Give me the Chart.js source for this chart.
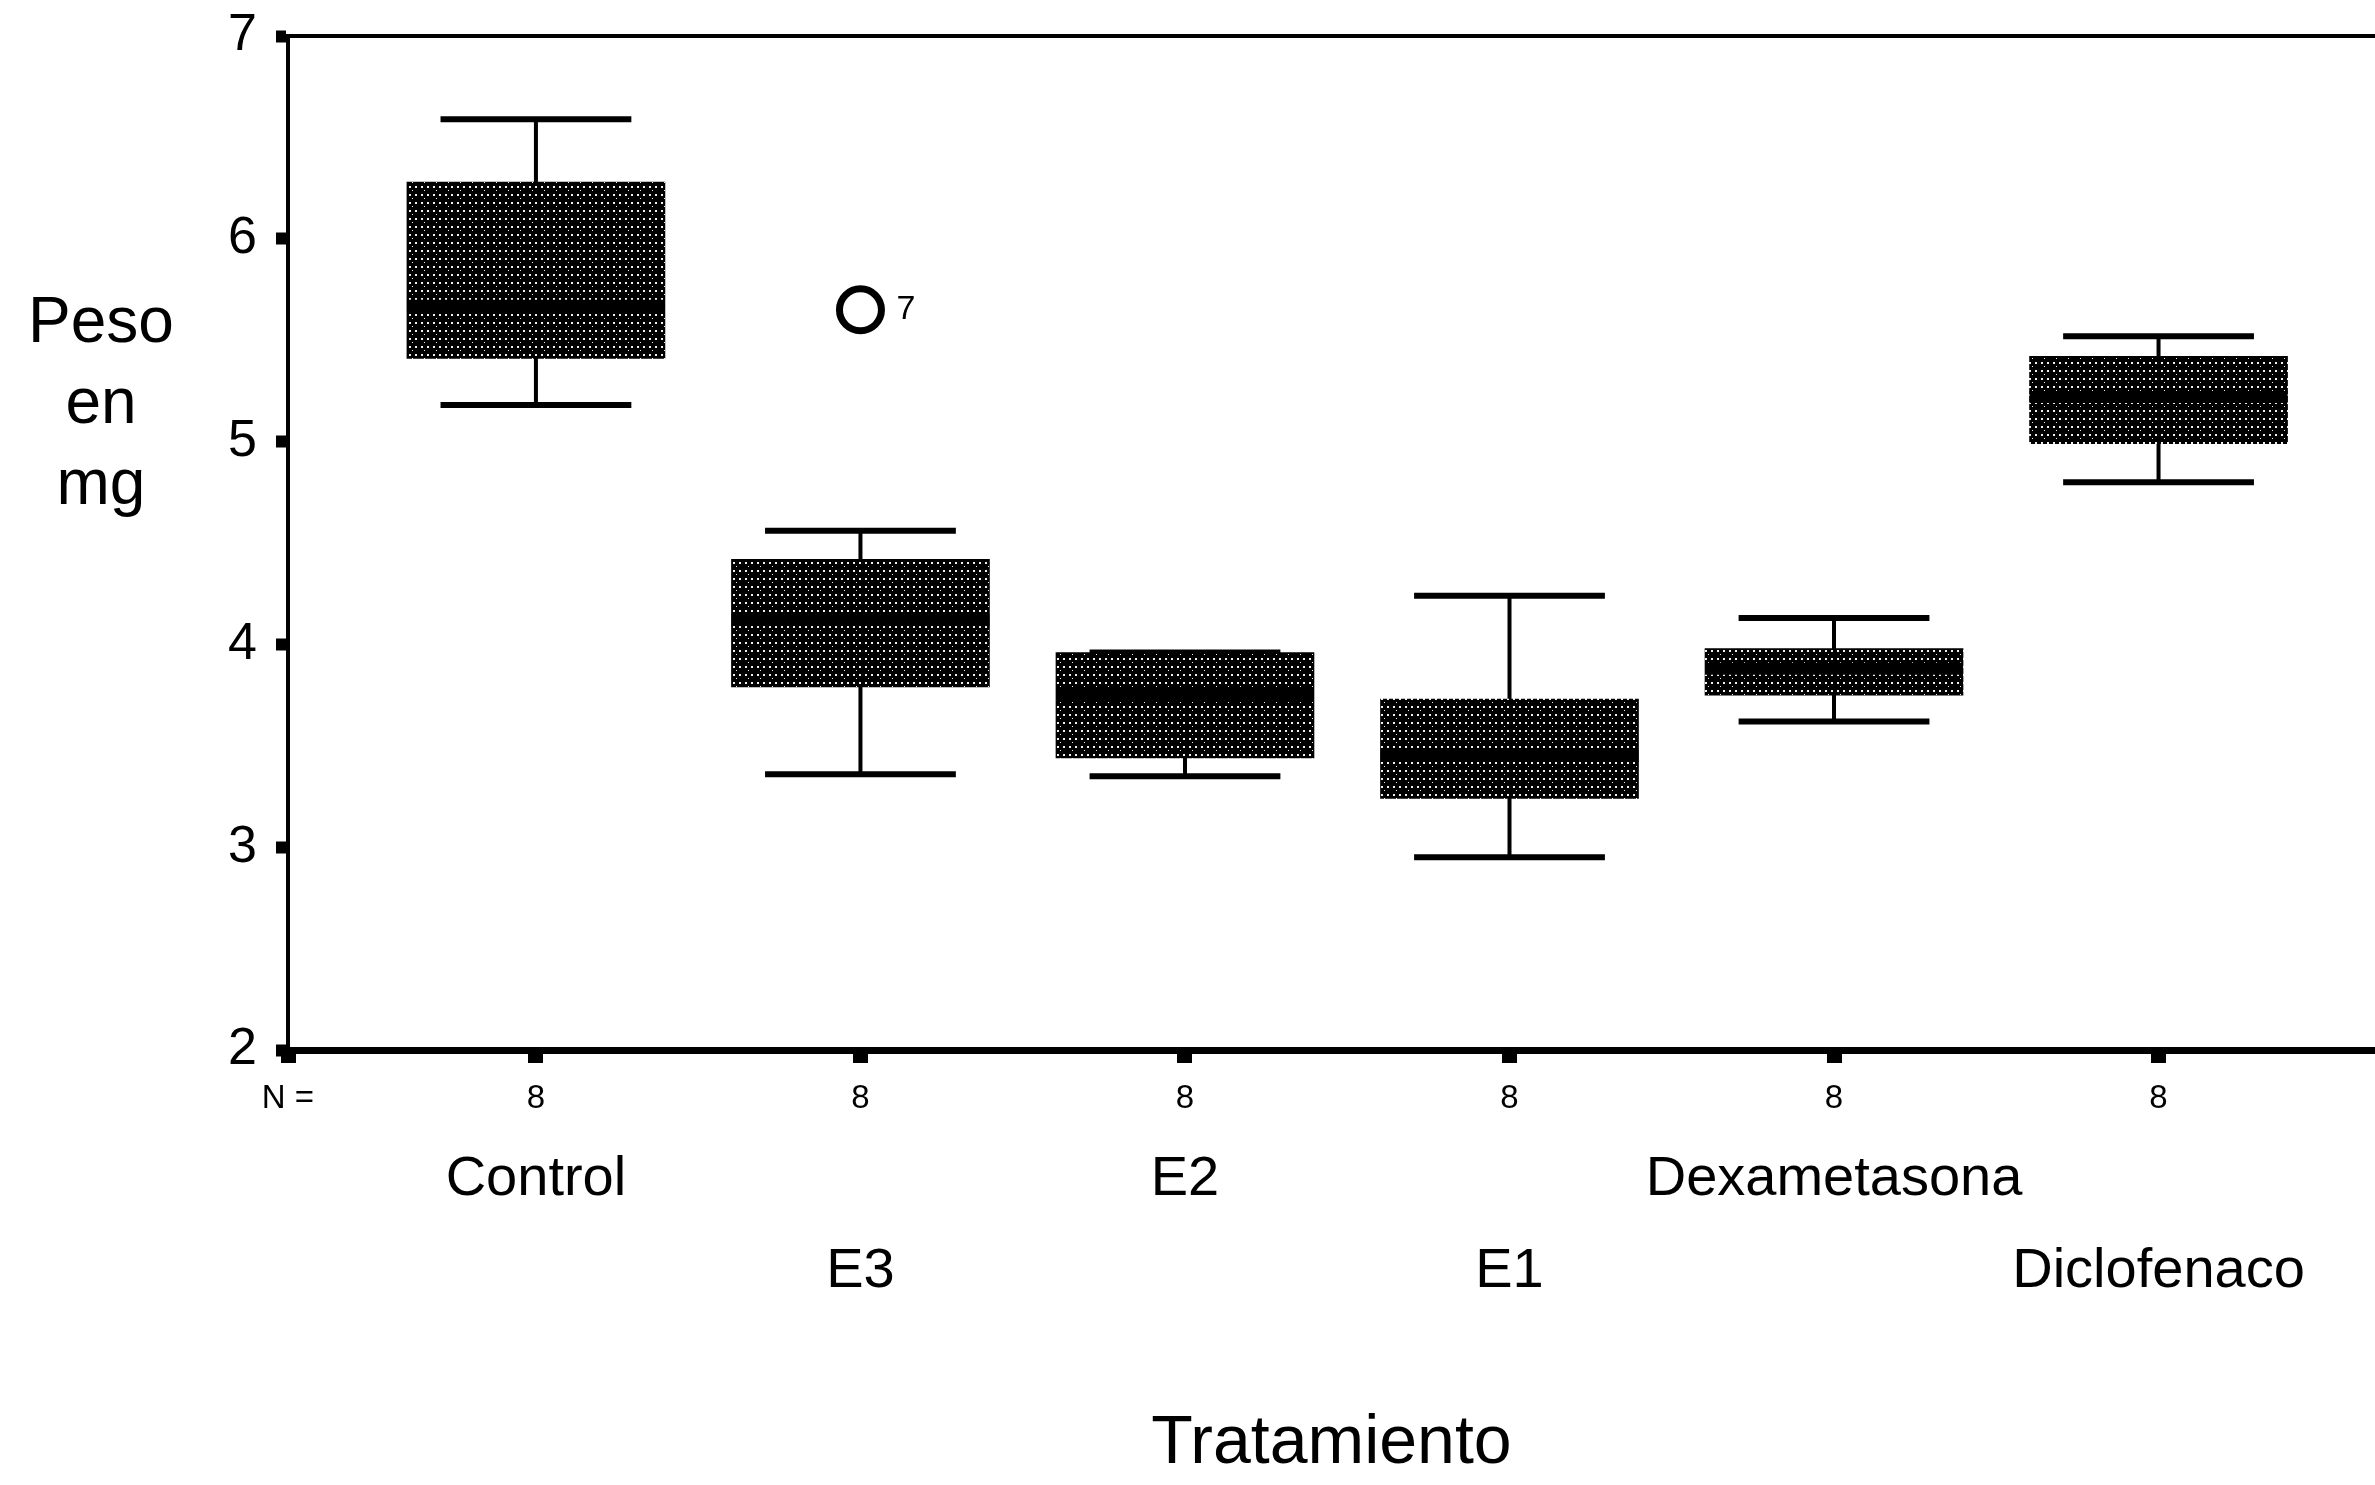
<!DOCTYPE html>
<html>
<head>
<meta charset="utf-8">
<script src="https://cdn.jsdelivr.net/npm/chart.js@4.4.1/dist/chart.umd.min.js"></script>
<style>
  html, body { margin: 0; padding: 0; background: #fff; overflow: hidden; }
  #wrap { width: 2375px; height: 1485px; }
</style>
</head>
<body>
<div id="wrap"><canvas id="chart"></canvas></div>
<script>
// Boxplot: Peso en mg por tratamiento (N = 8 por grupo)
const categories = ["Control", "E3", "E2", "E1", "Dexametasona", "Diclofenaco"];
const nCounts = [8, 8, 8, 8, 8, 8];
const whiskerLow = [5.18, 3.36, 3.35, 2.95, 3.62, 4.80];
const q1 = [5.41, 3.79, 3.44, 3.24, 3.75, 4.99];
const median = [5.67, 4.12, 3.75, 3.45, 3.88, 5.22];
const q3 = [6.28, 4.42, 3.96, 3.73, 3.98, 5.42];
const whiskerHigh = [6.59, 4.56, 3.96, 4.24, 4.13, 5.52];
const outlierX = [2];
const outlierY = [5.65];
const outlierLabels = ["7"];
const yTicks = [2, 3, 4, 5, 6, 7];

const xMin = 0.236, xMax = 6.667;
const capHalf = 0.294;
const font = "'Liberation Sans', Arial, sans-serif";

function stipple() {
  const c = document.createElement("canvas");
  c.width = 12; c.height = 8;
  const g = c.getContext("2d");
  g.fillStyle = "#000";
  g.fillRect(0, 0, 12, 8);
  g.fillStyle = "#f0f0f0";
  g.fillRect(1, 2, 2, 2);
  g.fillRect(7, 2, 2, 2);
  g.fillRect(4, 6, 1, 1);
  return g.createPattern(c, "repeat");
}

const boxParts = {
  id: "boxParts",
  beforeDatasetsDraw(chart) {
    const { ctx, scales: { x, y } } = chart;
    ctx.save();
    ctx.strokeStyle = "#000";
    categories.forEach((c, i) => {
      const cx = x.getPixelForValue(i + 1);
      ctx.lineWidth = 4;
      ctx.beginPath();
      ctx.moveTo(cx, y.getPixelForValue(whiskerLow[i]));
      ctx.lineTo(cx, y.getPixelForValue(whiskerHigh[i]));
      ctx.stroke();
      ctx.lineWidth = 6;
      [whiskerLow[i], whiskerHigh[i]].forEach(v => {
        const py = y.getPixelForValue(v);
        ctx.beginPath();
        ctx.moveTo(x.getPixelForValue(i + 1 - capHalf), py);
        ctx.lineTo(x.getPixelForValue(i + 1 + capHalf), py);
        ctx.stroke();
      });
    });
    ctx.restore();
  },
  afterDatasetsDraw(chart) {
    const { ctx, chartArea, scales: { x, y } } = chart;
    const bar = chart.getDatasetMeta(0).data;
    ctx.save();
    // median band
    ctx.fillStyle = "#000";
    categories.forEach((c, i) => {
      const py = y.getPixelForValue(median[i]);
      ctx.fillRect(bar[i].x - bar[i].width / 2, py - 6, bar[i].width, 12);
    });
    // top frame line
    ctx.strokeStyle = "#000";
    ctx.lineWidth = 4;
    ctx.beginPath();
    ctx.moveTo(chartArea.left, chartArea.top);
    ctx.lineTo(chartArea.right, chartArea.top);
    ctx.stroke();
    // outlier case numbers
    ctx.font = "34px " + font;
    ctx.textBaseline = "middle";
    ctx.textAlign = "left";
    outlierLabels.forEach((t, i) => {
      ctx.fillText(t, x.getPixelForValue(outlierX[i]) + 36, y.getPixelForValue(outlierY[i]));
    });
    // horizontal y title
    ctx.font = "64px " + font;
    ctx.textAlign = "center";
    const tx = chartArea.left - 187;
    const mid = y.getPixelForValue(5.18);
    ["Peso", "en", "mg"].forEach((t, k) => ctx.fillText(t, tx, mid + (k - 1) * 81));
    ctx.restore();
  }
};

const catTicks = s => { s.ticks = categories.map((c, i) => ({ value: i + 1 })); };

new Chart(document.getElementById("chart"), {
  type: "bar",
  data: {
    datasets: [
      {
        label: "Peso",
        data: categories.map((c, i) => ({ x: i + 1, y: [q1[i], q3[i]] })),
        backgroundColor: stipple(),
        borderWidth: 0,
        barThickness: 258,
        grouped: false
      },
      {
        type: "scatter",
        label: "Atípico",
        data: outlierX.map((v, i) => ({ x: v, y: outlierY[i] })),
        pointStyle: "circle",
        pointRadius: 21,
        pointBorderWidth: 7,
        pointBorderColor: "#000",
        pointBackgroundColor: "#fff"
      }
    ]
  },
  options: {
    responsive: true,
    maintainAspectRatio: false,
    animation: false,
    layout: { autoPadding: false, padding: { top: 36, right: 0, bottom: 0, left: 0 } },
    plugins: { legend: { display: false }, tooltip: { enabled: false } },
    scales: {
      x: {
        type: "linear",
        position: "bottom",
        min: xMin,
        max: xMax,
        offset: false,
        afterBuildTicks: s => { s.ticks = [{ value: xMin }].concat(categories.map((c, i) => ({ value: i + 1 }))); },
        afterFit: s => { s.height = 80; s.paddingLeft = 0; s.paddingRight = 0; },
        grid: { display: true, offset: false, drawOnChartArea: false, drawTicks: true, tickLength: 13, tickWidth: 15, color: "#000" },
        border: { display: true, color: "#000", width: 7 },
        ticks: {
          autoSkip: false,
          maxRotation: 0,
          padding: 16,
          color: "#000",
          font: { family: font, size: 33 },
          callback: v => v < 1 ? "N =" : String(nCounts[Math.round(v) - 1])
        }
      },
      xn: {
        type: "linear",
        position: "bottom",
        min: xMin,
        max: xMax,
        offset: false,
        afterBuildTicks: catTicks,
        afterFit: s => { s.height = 355; s.paddingLeft = 0; s.paddingRight = 0; },
        grid: { display: false, offset: false, drawTicks: false },
        border: { display: false },
        ticks: {
          autoSkip: false,
          maxRotation: 0,
          padding: 4,
          color: "#000",
          font: { family: font, size: 56, lineHeight: 1.64 },
          callback: v => {
            const k = Math.round(v) - 1;
            return k % 2 === 0 ? [categories[k], ""] : ["", categories[k]];
          }
        },
        title: {
          display: true,
          text: "Tratamiento",
          color: "#000",
          font: { family: font, size: 68 },
          padding: { top: 0, bottom: 0 }
        }
      },
      y: {
        min: 2,
        max: 7,
        afterBuildTicks: s => { s.ticks = yTicks.map(v => ({ value: v })); },
        afterFit: s => { s.width = 288; s.paddingTop = 0; s.paddingBottom = 0; },
        grid: { display: true, drawOnChartArea: false, drawTicks: true, tickLength: 12, tickWidth: 12, color: "#000" },
        border: { display: true, color: "#000", width: 4 },
        ticks: {
          padding: 19,
          color: "#000",
          font: { family: font, size: 52 }
        }
      }
    }
  },
  plugins: [boxParts]
});
</script>
</body>
</html>
